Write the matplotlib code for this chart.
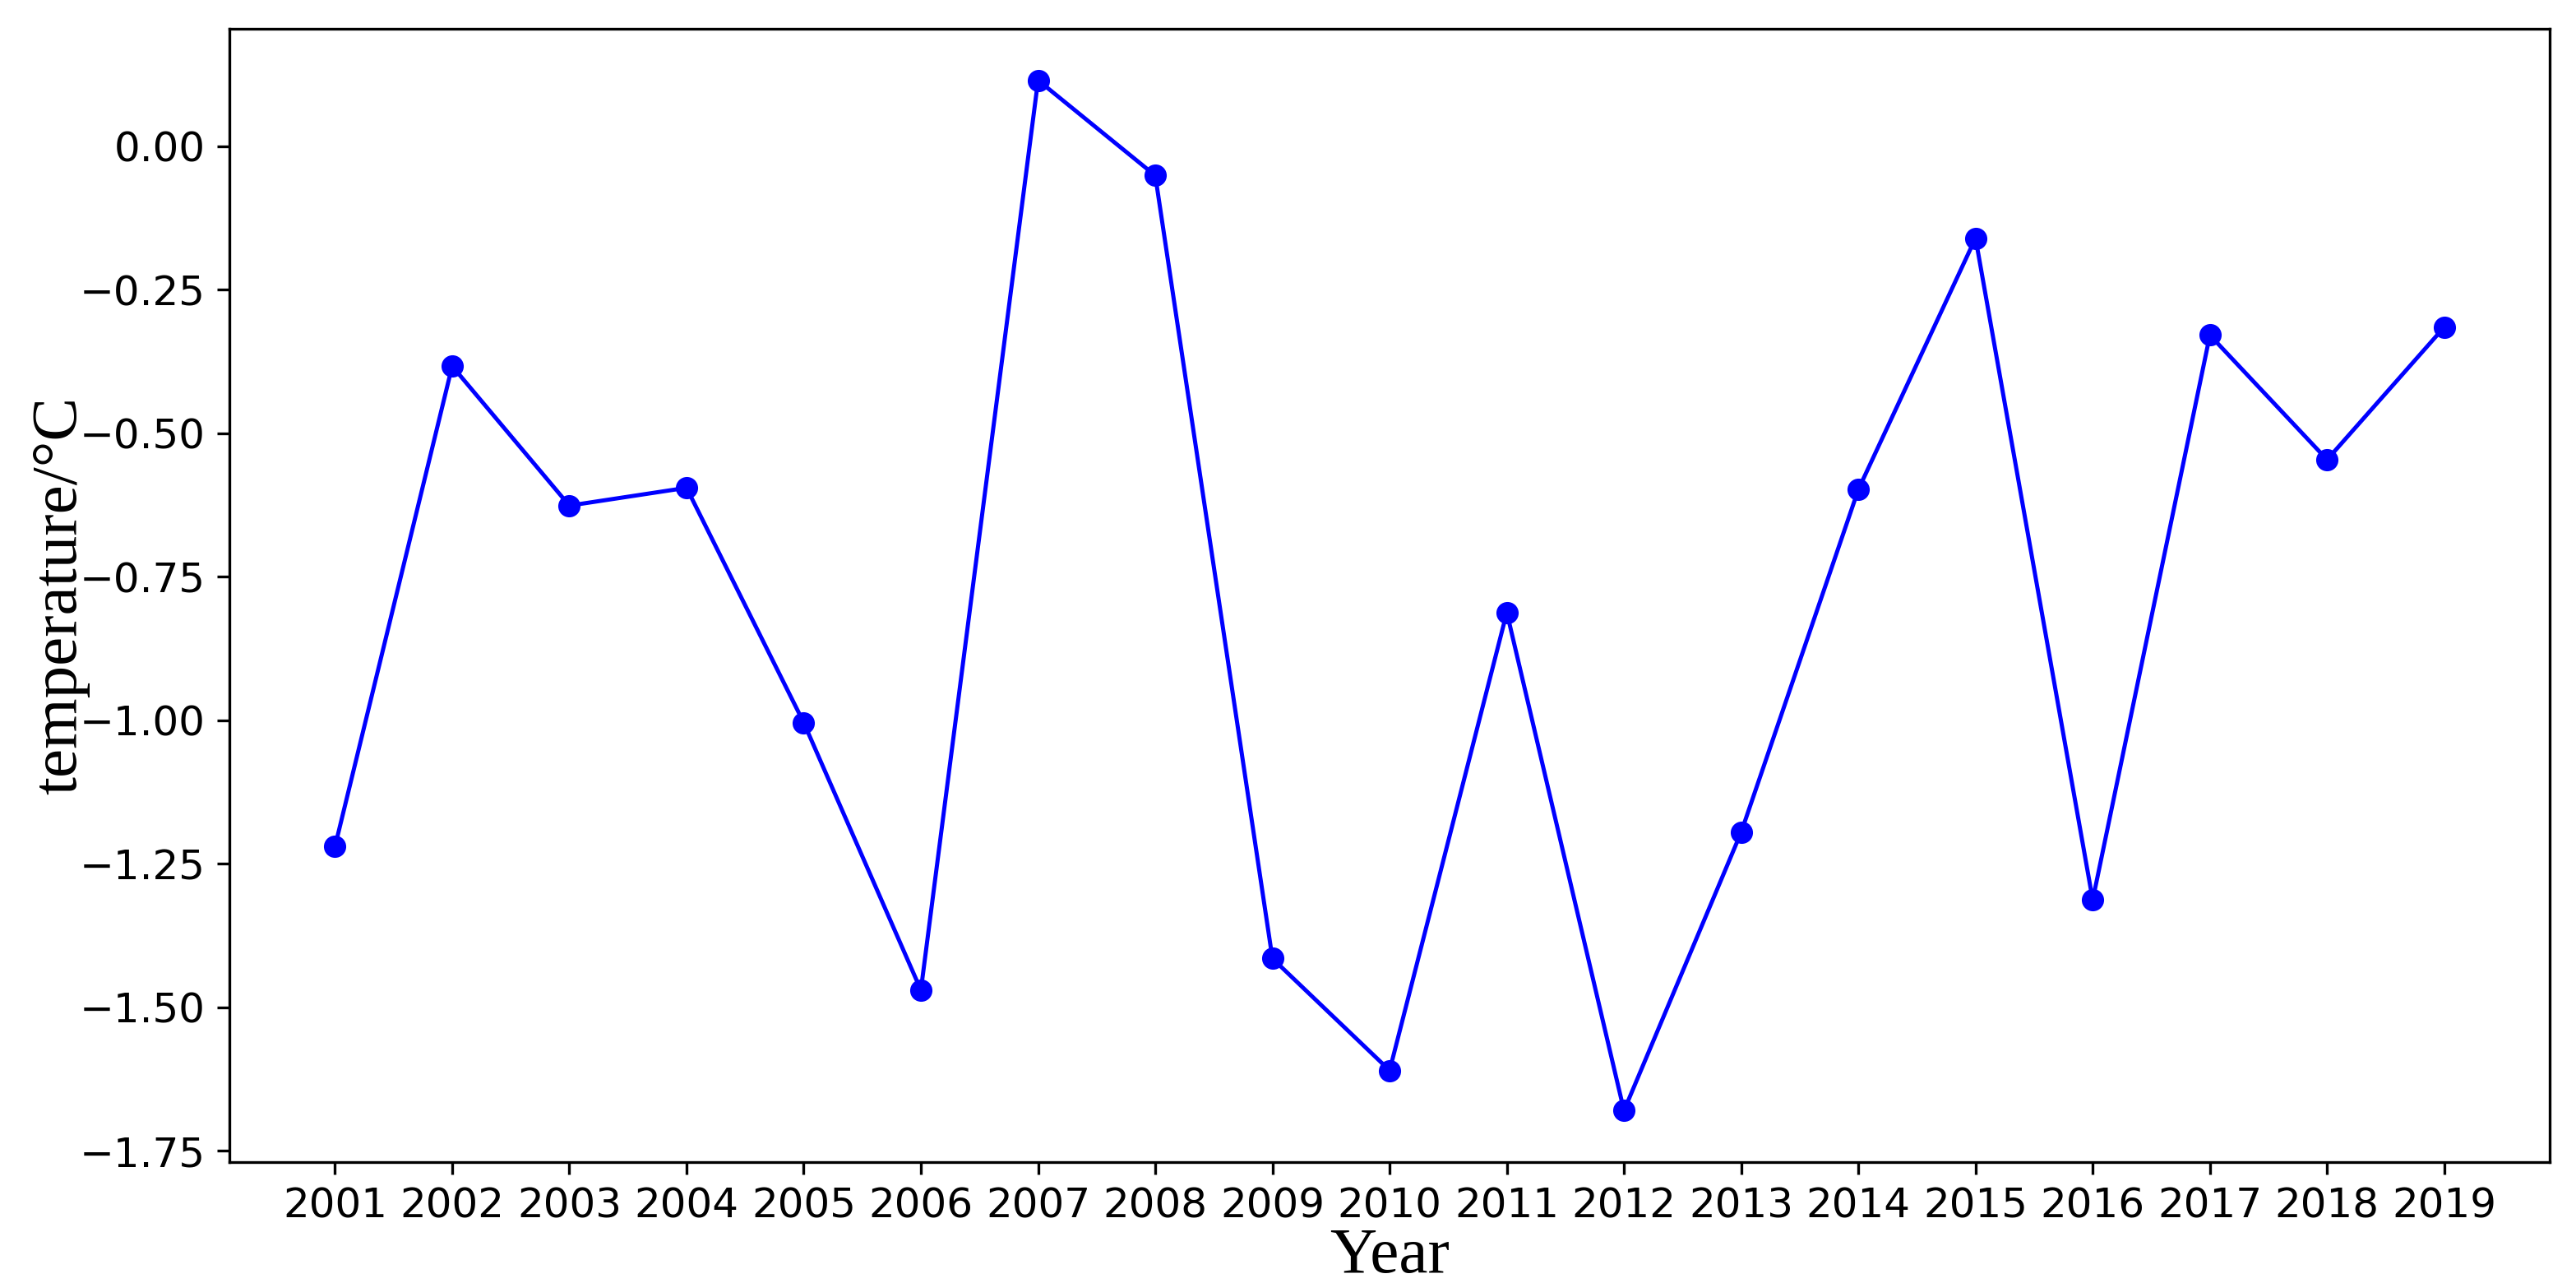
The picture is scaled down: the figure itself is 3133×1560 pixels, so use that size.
import matplotlib
matplotlib.use("Agg")
import matplotlib.pyplot as plt

# yearly temperature anomaly
years = [2001, 2002, 2003, 2004, 2005, 2006, 2007, 2008, 2009, 2010,
         2011, 2012, 2013, 2014, 2015, 2016, 2017, 2018, 2019]
temps = [-1.22, -0.383, -0.626, -0.595, -1.004, -1.47, 0.115, -0.051, -1.415, -1.61,
         -0.812, -1.68, -1.195, -0.598, -0.16, -1.313, -0.329, -0.546, -0.315]

fig = plt.figure(figsize=(3133 / 300, 1560 / 300), dpi=300)
ax = fig.add_axes([0.0891, 0.0942, 0.9007, 0.8834])

ax.plot(years, temps, color='blue', marker='o', markersize=5.5, linewidth=1.2)

ax.set_xticks(years)
ax.tick_params(labelsize=12)

serif = ['Liberation Serif', 'DejaVu Serif']
ax.set_xlabel('Year', fontsize=19, family=serif, labelpad=0.5)
ax.set_ylabel('temperature/°C', fontsize=19, family=serif, labelpad=-3)

fig.savefig('out.png', dpi=300)
